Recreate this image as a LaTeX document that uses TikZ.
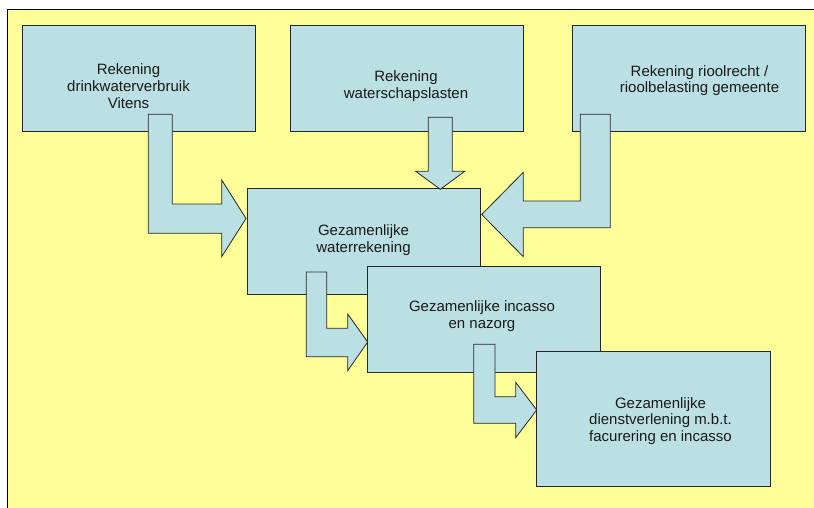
\documentclass[tikz,border=0pt]{standalone}
\usepackage{fontspec}
\setmainfont{Liberation Sans}
\definecolor{achtergrond}{HTML}{FFFF99}
\definecolor{blokblauw}{HTML}{BBE0E3}

\begin{document}
\begin{tikzpicture}[x=1pt,y=-1pt,line width=0.8pt,
    blok/.style={draw=black!85,fill=blokblauw,rectangle,inner sep=0pt},
    pijl/.style={draw=black!85,fill=blokblauw,line join=miter},
    tekst/.style={align=center,anchor=base,inner sep=0pt,
      font=\fontsize{15}{16.7}\selectfont,text=black!90}]
    \useasboundingbox (0,0) rectangle (814,508);
    \fill[achtergrond,draw=black] (7,9.5) rectangle (830,530);
    % bovenste rij
    \node[blok,minimum width=233pt,minimum height=106pt] (drink) at (139,78) {};
    \node[tekst] (drinkT) at (128.5,108.3) {Rekening\\drinkwaterverbruik\\Vitens};
    \node[blok,minimum width=233pt,minimum height=106.5pt] (schap) at (406.5,78.25) {};
    \node[tekst] (schapT) at (406,98.2) {Rekening\\waterschapslasten};
    \node[blok,minimum width=233pt,minimum height=106.5pt] (riool) at (688.5,78.25) {};
    \node[tekst] (rioolT) at (699.5,93) {Rekening rioolrecht /\\rioolbelasting gemeente};
    % midden
    \node[blok,minimum width=233pt,minimum height=106pt] (water) at (363.5,241) {};
    \node[tekst] (waterT) at (363.5,252.5) {Gezamenlijke\\waterrekening};
    \draw[pijl] (148.3,114.3)--(172.3,114.3)--(172.3,204)--(221.7,204)--(221.7,180)
      --(246,218.5)--(221.7,256.7)--(221.7,233.3)--(148.3,233.3)--cycle;
    \draw[pijl] (428.3,117.3)--(452.3,117.3)--(452.3,171.3)--(464.7,171.3)
      --(440.3,189.3)--(415.7,171.3)--(428.3,171.3)--cycle;
    \draw[pijl] (580.3,114.3)--(610.3,114.3)--(610.3,227.7)--(523.3,227.7)--(523.3,256.7)
      --(481.7,214.5)--(523.3,172.3)--(523.3,201)--(580.3,201)--cycle;
    \node[blok,minimum width=233pt,minimum height=106pt] (incasso) at (483.5,319) {};
    \node[tekst] (incassoT) at (482,328.4) {Gezamenlijke incasso\\en nazorg};
    \draw[pijl] (306.3,272)--(326.7,272)--(326.7,328.3)--(347.7,328.3)--(347.7,314)
      --(367.7,342)--(347.7,370.7)--(347.7,356.7)--(306.3,356.7)--cycle;
    \draw[pijl] (473.7,344.3)--(495,344.3)--(495,396.7)--(515.7,396.7)--(515.7,382.3)
      --(536.7,410)--(515.7,437.7)--(515.7,423.3)--(473.7,423.3)--cycle;
    \node[blok,minimum width=233.5pt,minimum height=134.5pt] (dienst) at (653.25,418.75) {};
    \node[tekst] (dienstT) at (660.5,441.5) {Gezamenlijke\\dienstverlening m.b.t.\\facurering en incasso};
  \end{tikzpicture}
\end{document}
